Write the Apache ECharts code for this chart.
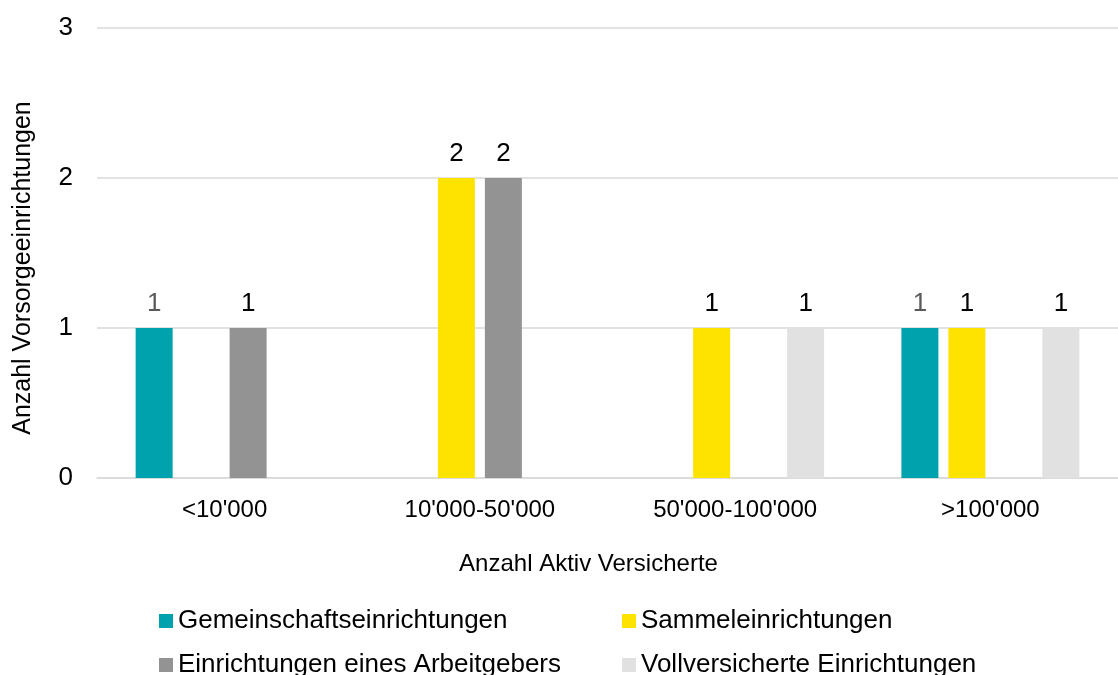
<!DOCTYPE html>
<html>
<head>
<meta charset="utf-8">
<script src="https://cdn.jsdelivr.net/npm/echarts@6/dist/echarts.min.js"></script>
<style>html,body{margin:0;padding:0;background:#fff}#c{width:1118px;height:675px}</style>
</head>
<body>
<div id="c"></div>
<script>
const categories = ["<10'000", "10'000-50'000", "50'000-100'000", ">100'000"];
const seriesNames = ["Gemeinschaftseinrichtungen", "Sammeleinrichtungen", "Einrichtungen eines Arbeitgebers", "Vollversicherte Einrichtungen"];
const gemeinschaft = [1, 0, 0, 1];
const sammel = [0, 2, 1, 1];
const arbeitgeber = [1, 2, 0, 0];
const vollversichert = [0, 0, 1, 1];
const yTicks = [0, 1, 2, 3];
const colors = ["#00A3AD", "#FFE300", "#939393", "#E1E1E1"];
const labelColors = ["#595959", "#000", "#000", "#000"];
const values = [gemeinschaft, sammel, arbeitgeber, vollversichert];

const FONT = "Liberation Sans, Arial, sans-serif";
const legendPos = [[154, 603], [617, 603], [154, 647], [617, 647]];
const chart = echarts.init(document.getElementById('c'));
chart.setOption({
  animation: false,
  textStyle: { fontFamily: FONT },
  grid: { left: 97, right: 0, top: 28, bottom: 197, containLabel: false },
  legend: seriesNames.map((n, i) => ({
    data: [n], left: legendPos[i][0], top: legendPos[i][1],
    itemWidth: 14, itemHeight: 14, itemGap: 0, itemTextGap: 5, icon: 'rect',
    textStyle: { fontSize: 26, color: '#000', fontFamily: FONT }
  })),
  xAxis: {
    type: 'category', data: categories,
    name: 'Anzahl Aktiv Versicherte', nameLocation: 'middle', nameGap: 74,
    nameTextStyle: { fontSize: 24, color: '#000', fontFamily: FONT, padding: [0, 38, 0, 0] },
    axisLine: { lineStyle: { color: '#D9D9D9', width: 1.5 } },
    axisTick: { show: false },
    axisLabel: { fontSize: 24, color: '#000', margin: 20, fontFamily: FONT }
  },
  yAxis: {
    type: 'value', min: yTicks[0], max: yTicks[yTicks.length - 1], interval: 1,
    name: 'Anzahl Vorsorgeeinrichtungen', nameLocation: 'middle', nameGap: 61,
    nameTextStyle: { fontSize: 25, color: '#000', fontFamily: FONT, padding: [0, 30, 0, 0] },
    axisLine: { show: false }, axisTick: { show: false },
    axisLabel: { fontSize: 26, color: '#000', margin: 24, fontFamily: FONT },
    splitLine: { lineStyle: { color: '#D9D9D9', width: 1.5 } }
  },
  series: values.map((v, i) => ({
    name: seriesNames[i], type: 'bar', data: v,
    barWidth: 37, barGap: '27%',
    itemStyle: { color: colors[i] },
    label: { show: true, position: 'top', distance: 11, fontSize: 26, color: labelColors[i], fontFamily: FONT,
      formatter: p => p.value === 0 ? '' : p.value }
  }))
});
</script>
</body>
</html>
